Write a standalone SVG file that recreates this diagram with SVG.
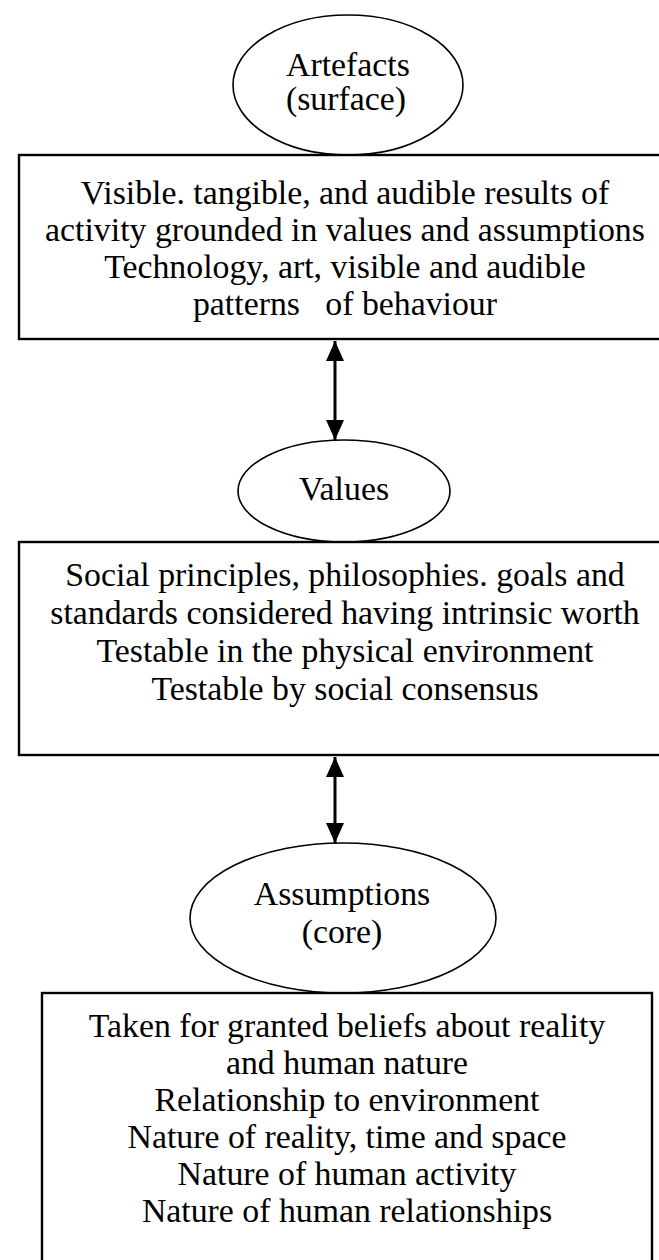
<svg xmlns="http://www.w3.org/2000/svg" width="659" height="1260" viewBox="0 0 659 1260">
  <style>
    .bg { fill: #ffffff; }
    .oval { fill: #ffffff; stroke: #000000; stroke-width: 1.6; }
    .box { fill: #ffffff; stroke: #000000; stroke-width: 2.4; }
    .label { font-family: "Liberation Serif", "Times New Roman", serif; font-size: 33.8px; fill: #000000; text-anchor: middle; white-space: pre; }
    .link { stroke: #000000; stroke-width: 3; fill: none; }
  </style>
  <defs>
    <marker id="head" viewBox="0 0 20 18" refX="20" refY="9" markerWidth="20" markerHeight="18" markerUnits="userSpaceOnUse" orient="auto-start-reverse">
      <path d="M0,0 L20,9 L0,18 Z" fill="#000000"/>
    </marker>
  </defs>

  <rect class="bg" x="0" y="0" width="659" height="1260"/>

  <!-- surface layer -->
  <g id="artefacts">
    <ellipse class="oval" cx="348" cy="85" rx="115" ry="70"/>
    <text class="label" x="348" y="76">Artefacts</text>
    <text class="label" x="346" y="110">(surface)</text>
  </g>

  <g id="artefacts-detail">
    <rect class="box" x="19" y="155" width="650" height="184"/>
    <text class="label" x="345" y="204">Visible. tangible, and audible results of</text>
    <text class="label" x="345" y="241">activity grounded in values and assumptions</text>
    <text class="label" x="345" y="278">Technology, art, visible and audible</text>
    <text class="label" x="345" y="315">patterns   of behaviour</text>
  </g>

  <!-- middle layer -->
  <g id="values">
    <ellipse class="oval" cx="344" cy="491" rx="106" ry="51"/>
    <text class="label" x="344" y="500">Values</text>
  </g>

  <g id="values-detail">
    <rect class="box" x="19" y="542" width="650" height="213"/>
    <text class="label" x="345" y="586">Social principles, philosophies. goals and</text>
    <text class="label" x="345" y="624">standards considered having intrinsic worth</text>
    <text class="label" x="345" y="662">Testable in the physical environment</text>
    <text class="label" x="345" y="700">Testable by social consensus</text>
  </g>

  <!-- core layer -->
  <g id="assumptions">
    <ellipse class="oval" cx="343" cy="918" rx="153" ry="75"/>
    <text class="label" x="342" y="905">Assumptions</text>
    <text class="label" x="342" y="943">(core)</text>
  </g>

  <g id="assumptions-detail">
    <rect class="box" x="42" y="993" width="610" height="280"/>
    <text class="label" x="347" y="1037">Taken for granted beliefs about reality</text>
    <text class="label" x="347" y="1074">and human nature</text>
    <text class="label" x="347" y="1111">Relationship to environment</text>
    <text class="label" x="347" y="1148">Nature of reality, time and space</text>
    <text class="label" x="347" y="1185">Nature of human activity</text>
    <text class="label" x="347" y="1222">Nature of human relationships</text>
  </g>

  <!-- two-way links between layers -->
  <g id="connectors">
    <line class="link" x1="335" y1="440" x2="335" y2="341" marker-start="url(#head)" marker-end="url(#head)"/>
    <line class="link" x1="335" y1="843" x2="335" y2="757" marker-start="url(#head)" marker-end="url(#head)"/>
  </g>
</svg>
